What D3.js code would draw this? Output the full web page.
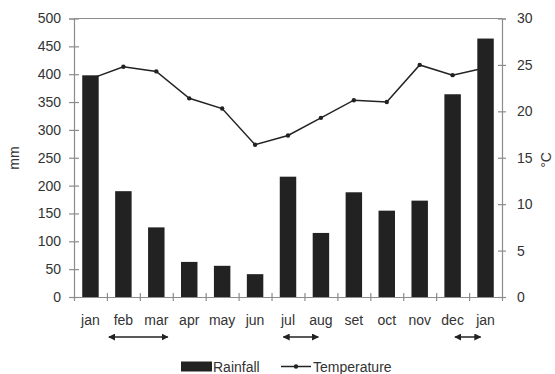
<!DOCTYPE html>
<html>
<head>
<meta charset="utf-8">
<script src="https://cdn.jsdelivr.net/npm/d3@7"></script>
<style>
  body { margin: 0; background: #fff; }
</style>
</head>
<body>
<div id="chart"></div>
<script>
var svgWidth = 555;
var svgHeight = 374;

var margin = { top: 18.5, right: 53, bottom: 77, left: 74 };
var width = svgWidth - margin.left - margin.right;
var height = svgHeight - margin.top - margin.bottom;

// data
var months = ["jan", "feb", "mar", "apr", "may", "jun", "jul", "aug", "set", "oct", "nov", "dec", "jan"];
var rainfall = [398, 190, 125, 63, 56, 41, 216, 115, 188, 155, 173, 364, 464];
var temperature = [23.5, 24.8, 24.3, 21.4, 20.3, 16.4, 17.4, 19.3, 21.2, 21.0, 25.0, 23.9, 24.7];
var rainTicks = [0, 50, 100, 150, 200, 250, 300, 350, 400, 450, 500];
var tempTicks = [0, 5, 10, 15, 20, 25, 30];
// arrows under the month axis, in month-slot units
var arrowSpans = [[1.06, 2.85], [6.36, 7.42], [11.57, 12.35]];

var axisColor = "#8c8c8c";
var ink = "#222";
var fontSize = "14px";
var fontFamily = "'Liberation Sans', Arial, Helvetica, sans-serif";

var svg = d3.select("#chart")
  .append("svg")
  .attr("width", svgWidth)
  .attr("height", svgHeight)
  .attr("font-family", fontFamily);

var chartGroup = svg.append("g")
  .attr("transform", "translate(" + margin.left + "," + margin.top + ")");

var idx = d3.range(months.length);

var xScale = d3.scaleBand()
  .domain(idx)
  .range([0, width])
  .paddingInner(0.5)
  .paddingOuter(0.25);

var slotScale = d3.scaleLinear()
  .domain([0, months.length])
  .range([0, width]);

var yRain = d3.scaleLinear().domain([0, 500]).range([height, 0]);
var yTemp = d3.scaleLinear().domain([0, 30]).range([height, 0]);

// top border
chartGroup.append("line")
  .attr("x1", 0).attr("x2", width)
  .attr("y1", 0).attr("y2", 0)
  .attr("stroke", axisColor).attr("stroke-width", 1.2);

// left axis
var leftAxis = chartGroup.append("g")
  .call(d3.axisLeft(yRain).tickValues(rainTicks).tickSize(5).tickPadding(8));
leftAxis.selectAll("line").attr("x1", -5).attr("x2", 5);

// right axis
var rightAxis = chartGroup.append("g")
  .attr("transform", "translate(" + width + ",0)")
  .call(d3.axisRight(yTemp).tickValues(tempTicks).tickSize(4).tickPadding(11));
rightAxis.selectAll("line").attr("x1", -4).attr("x2", 4);

// bottom axis with ticks at slot boundaries
var bottomAxis = chartGroup.append("g")
  .attr("transform", "translate(0," + height + ")")
  .call(d3.axisBottom(slotScale).tickValues(d3.range(1, months.length)).tickSize(4).tickFormat(""));
bottomAxis.selectAll("line").attr("y1", -4).attr("y2", 4);

[leftAxis, rightAxis, bottomAxis].forEach(function (ax) {
  ax.select(".domain").attr("stroke", axisColor).attr("stroke-width", 1.2);
  ax.selectAll(".tick line").attr("stroke", axisColor).attr("stroke-width", 1.2);
});

// month labels
chartGroup.selectAll(".month")
  .data(idx)
  .enter()
  .append("text")
  .attr("class", "month")
  .attr("x", d => xScale(d) + xScale.bandwidth() / 2)
  .attr("y", height + 28)
  .attr("text-anchor", "middle")
  .text(d => months[d]);

// bars
chartGroup.selectAll(".bar")
  .data(idx)
  .enter()
  .append("rect")
  .attr("class", "bar")
  .attr("x", d => xScale(d))
  .attr("y", d => yRain(rainfall[d]))
  .attr("width", xScale.bandwidth())
  .attr("height", d => height - yRain(rainfall[d]))
  .attr("fill", ink);

// temperature line
var line = d3.line()
  .x(d => xScale(d) + xScale.bandwidth() / 2)
  .y(d => yTemp(temperature[d]));

chartGroup.append("path")
  .datum(idx)
  .attr("d", line)
  .attr("fill", "none")
  .attr("stroke", ink)
  .attr("stroke-width", 1.5);

chartGroup.selectAll(".dot")
  .data(idx)
  .enter()
  .append("circle")
  .attr("class", "dot")
  .attr("cx", d => xScale(d) + xScale.bandwidth() / 2)
  .attr("cy", d => yTemp(temperature[d]))
  .attr("r", 2.2)
  .attr("fill", ink);

// arrow heads
var defs = svg.append("defs");
defs.append("marker")
  .attr("id", "head")
  .attr("viewBox", "0 0 10 10")
  .attr("refX", 9).attr("refY", 5)
  .attr("markerWidth", 7).attr("markerHeight", 7)
  .attr("markerUnits", "userSpaceOnUse")
  .attr("orient", "auto-start-reverse")
  .append("path")
  .attr("d", "M0,0 L10,5 L0,10 Z")
  .attr("fill", ink);

chartGroup.selectAll(".arrow")
  .data(arrowSpans)
  .enter()
  .append("line")
  .attr("class", "arrow")
  .attr("x1", d => slotScale(d[0]))
  .attr("x2", d => slotScale(d[1]))
  .attr("y1", height + 40)
  .attr("y2", height + 40)
  .attr("stroke", ink)
  .attr("stroke-width", 1.5)
  .attr("marker-start", "url(#head)")
  .attr("marker-end", "url(#head)");

// axis titles
svg.append("text")
  .attr("transform", "translate(19,158) rotate(-90)")
  .attr("text-anchor", "middle")
  .text("mm");

svg.append("text")
  .attr("transform", "translate(551,160) rotate(-90)")
  .attr("text-anchor", "middle")
  .text("°C");

// legend
var legend = svg.append("g");
legend.append("rect")
  .attr("x", 181).attr("y", 361.5)
  .attr("width", 31).attr("height", 10)
  .attr("fill", ink);
legend.append("text")
  .attr("x", 213).attr("y", 372)
  .text("Rainfall");
legend.append("line")
  .attr("x1", 281).attr("x2", 311)
  .attr("y1", 366.5).attr("y2", 366.5)
  .attr("stroke", ink).attr("stroke-width", 1.5);
legend.append("circle")
  .attr("cx", 296).attr("cy", 366.5).attr("r", 2.2)
  .attr("fill", ink);
legend.append("text")
  .attr("x", 313).attr("y", 372)
  .text("Temperature");

// same font on every label, including the ones the axes made
svg.selectAll("text")
  .attr("font-family", fontFamily)
  .style("font-family", fontFamily)
  .style("font-size", fontSize)
  .attr("fill", "#333");
</script>
</body>
</html>
